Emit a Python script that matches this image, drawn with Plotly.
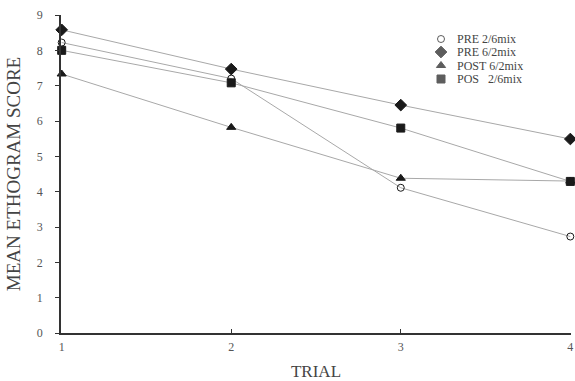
import plotly.graph_objects as go

trials = [1, 2, 3, 4]
pre_26 = [8.22, 7.2, 4.11, 2.73]
pre_62 = [8.58, 7.47, 6.45, 5.49]
post_62 = [7.33, 5.82, 4.38, 4.3]
pos_26 = [8.0, 7.08, 5.8, 4.29]
y_ticks = [0, 1, 2, 3, 4, 5, 6, 7, 8, 9]
x_ticks = [1, 2, 3, 4]

names = ["PRE 2/6mix", "PRE 6/2mix", "POST 6/2mix", "POS\u00a0\u00a0\u00a02/6mix"]
values = [pre_26, pre_62, post_62, pos_26]
symbols = ["circle-open", "diamond", "triangle-up", "square"]
sizes = [7, 9, 8, 8]

fig = go.Figure()
for name, vals, sym, size in zip(names, values, symbols, sizes):
    fig.add_trace(go.Scatter(
        x=trials, y=vals, name=name, mode="lines+markers",
        line=dict(color="#a8a8a8", width=1),
        marker=dict(symbol=sym, size=size, color="#1a1a1a",
                    line=dict(color="#1a1a1a", width=1)),
        cliponaxis=False, showlegend=False,
    ))

# custom compact legend drawn on an overlay axis measured in pixels
leg_x = 441
leg_rows = [39, 52, 65.5, 79]
fig.add_trace(go.Scatter(
    x=[leg_x] * 4, y=leg_rows, mode="markers", xaxis="x2", yaxis="y2",
    marker=dict(symbol=symbols, size=[7, 9, 8, 8], color="#1a1a1a",
                line=dict(color="#1a1a1a", width=1)),
    showlegend=False, hoverinfo="skip", cliponaxis=False,
))
for name, yy in zip(names, leg_rows):
    fig.add_annotation(x=leg_x + 15, y=yy, xref="x2", yref="y2", text=name,
                       showarrow=False, xanchor="left", yanchor="middle",
                       borderpad=0,
                       font=dict(size=12, color="#444444"))

font_fam = "Liberation Serif, Times New Roman, serif"
eps = 0.004
fig.update_layout(
    width=575, height=381,
    margin=dict(l=61, r=4, t=15, b=48),
    paper_bgcolor="white", plot_bgcolor="white",
    font=dict(family=font_fam, color="#555555", size=11),
    showlegend=False,
    xaxis=dict(range=[1 - eps, 4 + eps], tickvals=x_ticks, showgrid=False, zeroline=False,
               showline=True, linecolor="#333333", linewidth=1.5, automargin=False,
               ticks="inside", ticklen=4, tickcolor="#333333",
               ticklabelstandoff=2,
               title=dict(text="TRIAL", font=dict(size=17, color="#444444"), standoff=17),
               tickfont=dict(size=12, color="#555555")),
    yaxis=dict(range=[0, 9], tickvals=y_ticks, showgrid=False, zeroline=False,
               showline=True, linecolor="#333333", linewidth=1.5, automargin=False,
               ticks="outside", ticklen=4, tickcolor="#333333",
               ticklabelstandoff=10,
               title=dict(text="MEAN ETHOGRAM SCORE", font=dict(size=19, color="#444444"), standoff=11),
               tickfont=dict(size=12, color="#555555")),
    xaxis2=dict(overlaying="x", range=[61, 571], visible=False, fixedrange=True),
    yaxis2=dict(overlaying="y", range=[333, 15], visible=False, fixedrange=True),
)

fig.write_html(
    "out.html",
    config={"displayModeBar": False},
    post_script="document.body.style.margin='0';document.body.style.overflow='hidden';",
)
